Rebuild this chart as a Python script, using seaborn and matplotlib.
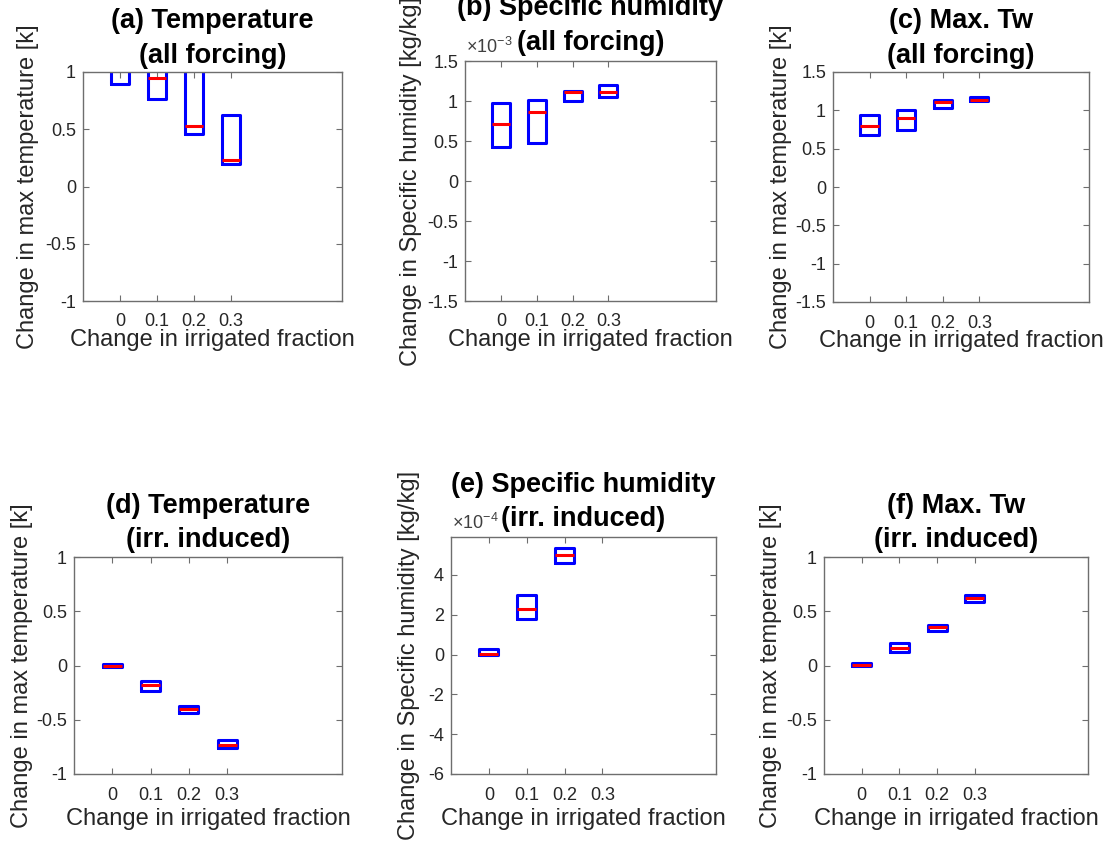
import numpy as np
import pandas as pd
import matplotlib
matplotlib.use("Agg")
import matplotlib.pyplot as plt
from matplotlib.ticker import FuncFormatter, FixedLocator
import seaborn as sns

# ---------------------------------------------------------------------------
# Data: 25th percentile, median and 75th percentile per irrigated-fraction bin
# ---------------------------------------------------------------------------
fractions = [0, 0.1, 0.2, 0.3]
xtick_labels = ["0", "0.1", "0.2", "0.3"]

# (a) Temperature, all forcing [K]
temp_all_q1 = [0.895, 0.764, 0.461, 0.199]
temp_all_med = [1.03, 0.945, 0.526, 0.231]
temp_all_q3 = [1.15, 1.12, 1.10, 0.622]

# (b) Specific humidity, all forcing [kg/kg]
hum_all_q1 = [0.423e-3, 0.478e-3, 0.995e-3, 1.054e-3]
hum_all_med = [0.707e-3, 0.857e-3, 1.108e-3, 1.108e-3]
hum_all_q3 = [0.970e-3, 1.007e-3, 1.129e-3, 1.200e-3]

# (c) Max. wet-bulb temperature, all forcing [K]
tw_all_q1 = [0.678, 0.743, 1.025, 1.125]
tw_all_med = [0.800, 0.900, 1.108, 1.138]
tw_all_q3 = [0.940, 0.999, 1.138, 1.180]

# (d) Temperature, irrigation induced [K]
temp_irr_q1 = [-0.015, -0.235, -0.437, -0.759]
temp_irr_med = [-0.003, -0.184, -0.400, -0.735]
temp_irr_q3 = [0.013, -0.141, -0.370, -0.686]

# (e) Specific humidity, irrigation induced [kg/kg] (no 0.3 bin)
hum_irr_fractions = [0, 0.1, 0.2]
hum_irr_q1 = [0.00e-4, 1.78e-4, 4.57e-4]
hum_irr_med = [0.01e-4, 2.28e-4, 5.00e-4]
hum_irr_q3 = [0.27e-4, 3.00e-4, 5.37e-4]

# (f) Max. wet-bulb temperature, irrigation induced [K]
tw_irr_q1 = [-0.006, 0.126, 0.319, 0.585]
tw_irr_med = [0.006, 0.159, 0.352, 0.625]
tw_irr_q3 = [0.025, 0.205, 0.374, 0.646]

titles = [
    "(a) Temperature\n(all forcing)",
    "(b) Specific humidity\n(all forcing)",
    "(c) Max. Tw\n(all forcing)",
    "(d) Temperature\n(irr. induced)",
    "(e) Specific humidity\n(irr. induced)",
    "(f) Max. Tw\n(irr. induced)",
]
ylabel_temp = "Change in max temperature [k]"
ylabel_hum = "Change in Specific humidity [kg/kg]"
xlabel = "Change in irrigated fraction"


def box_table(fracs, q1, med, q3):
    """Five-sample table per bin whose quartiles reproduce q1/median/q3."""
    rows = []
    for f, lo, m, hi in zip(fracs, q1, med, q3):
        for v in (lo, lo, m, hi, hi):
            rows.append({"frac": f, "value": v})
    return pd.DataFrame(rows)


# ---------------------------------------------------------------------------
# Style
# ---------------------------------------------------------------------------
sns.set_theme(style="ticks")
plt.rcParams["font.family"] = ["Liberation Sans", "DejaVu Sans"]
plt.rcParams["axes.unicode_minus"] = False
plt.rcParams["mathtext.fontset"] = "custom"
plt.rcParams["mathtext.rm"] = "Liberation Sans"
plt.rcParams["mathtext.it"] = "Liberation Sans:italic"
plt.rcParams["mathtext.bf"] = "Liberation Sans:bold"

W, H = 1104, 841
fig = plt.figure(figsize=(W / 100, H / 100), dpi=100)
fig.patch.set_facecolor("white")

# panel frames in pixels: left, right, top, bottom
frames = [
    (83, 342, 72, 301),
    (465, 716, 61, 301),
    (833, 1089, 72, 302),
    (74, 342, 557, 774),
    (451, 716, 537, 774),
    (824, 1088, 557, 774),
]

panels = [
    dict(data=box_table(fractions, temp_all_q1, temp_all_med, temp_all_q3),
         ylim=(-1, 1), yticks=np.arange(-1, 1.01, 0.5), scale=1, exp=None,
         ylabel=ylabel_temp, ylab_off=44, xlab_off=28, pad=6.8),
    dict(data=box_table(fractions, hum_all_q1, hum_all_med, hum_all_q3),
         ylim=(-1.5e-3, 1.5e-3), yticks=np.arange(-1.5, 1.51, 0.5) * 1e-3,
         scale=1e-3, exp=-3, ylabel=ylabel_hum, ylab_off=43, xlab_off=28, pad=8.0),
    dict(data=box_table(fractions, tw_all_q1, tw_all_med, tw_all_q3),
         ylim=(-1.5, 1.5), yticks=np.arange(-1.5, 1.51, 0.5), scale=1, exp=None,
         ylabel=ylabel_temp, ylab_off=41, xlab_off=28, pad=6.8),
    dict(data=box_table(fractions, temp_irr_q1, temp_irr_med, temp_irr_q3),
         ylim=(-1, 1), yticks=np.arange(-1, 1.01, 0.5), scale=1, exp=None,
         ylabel=ylabel_temp, ylab_off=41, xlab_off=34, pad=7.0),
    dict(data=box_table(hum_irr_fractions, hum_irr_q1, hum_irr_med, hum_irr_q3),
         ylim=(-6e-4, 5.9e-4), yticks=np.arange(-6, 4.01, 2) * 1e-4,
         scale=1e-4, exp=-4, ylabel=ylabel_hum, ylab_off=31, xlab_off=34, pad=7.6),
    dict(data=box_table(fractions, tw_irr_q1, tw_irr_med, tw_irr_q3),
         ylim=(-1, 1), yticks=np.arange(-1, 1.01, 0.5), scale=1, exp=None,
         ylabel=ylabel_temp, ylab_off=42, xlab_off=34, pad=7.0),
]

frame_color = "#6e6e6e"
text_color = "#262626"

for (L, R, T, B), spec, title in zip(frames, panels, titles):
    wpx, hpx = R - L, B - T
    ax = fig.add_axes([L / W, 1 - B / H, wpx / W, hpx / H])

    sns.boxplot(
        data=spec["data"], x="frac", y="value", orient="x",
        native_scale=True, fill=False, color="blue", width=0.5,
        linewidth=2.2, showcaps=False, showfliers=False, whis=0,
        whiskerprops={"linewidth": 0},
        medianprops={"color": "red", "linewidth": 2.2},
        ax=ax,
    )

    ax.set_xlim(-0.1, 0.6)
    ax.set_ylim(*spec["ylim"])
    ax.xaxis.set_major_locator(FixedLocator(fractions))
    ax.set_xticklabels(xtick_labels)
    ax.yaxis.set_major_locator(FixedLocator(spec["yticks"]))
    sc = spec["scale"]
    ax.yaxis.set_major_formatter(
        FuncFormatter(lambda v, p, sc=sc: f"{round(v / sc, 6):g}" if abs(v) > 1e-12 else "0")
    )

    for side in ("top", "right", "bottom", "left"):
        ax.spines[side].set_visible(True)
        ax.spines[side].set_color(frame_color)
        ax.spines[side].set_linewidth(1.0)

    ax.tick_params(axis="both", which="major", direction="in", top=True, right=True,
                   length=4, width=0.8, color=frame_color, labelcolor=text_color,
                   labelsize=13)
    ax.tick_params(axis="x", pad=9)
    ax.tick_params(axis="y", pad=5)

    ax.set_xlabel(xlabel, fontsize=17, color=text_color, va="top")
    ax.xaxis.set_label_coords(0.5, -spec["xlab_off"] / hpx)
    ax.set_ylabel(spec["ylabel"], fontsize=17, color=text_color)
    ax.yaxis.set_label_coords(-spec["ylab_off"] / wpx, 0.5)

    ax.set_title(title, fontsize=19.5, fontweight="bold", color="black",
                 pad=spec["pad"], linespacing=1.42)

    if spec["exp"] is not None:
        ax.annotate(r"$\times10^{%d}$" % spec["exp"], xy=(0, 1),
                    xycoords="axes fraction", xytext=(1, 3),
                    textcoords="offset points", ha="left", va="bottom",
                    fontsize=13, color="#404040")

    ax.grid(False)

fig.savefig("out.png", dpi=100, facecolor="white")
